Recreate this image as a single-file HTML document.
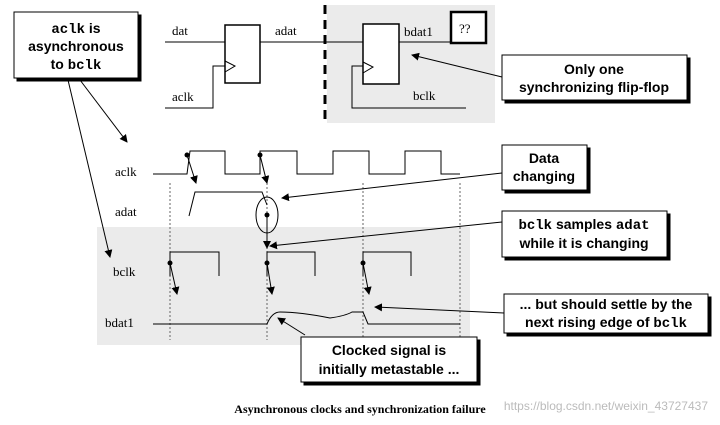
<!DOCTYPE html><html><head><style>body{margin:0;background:#fff}svg{display:block}
.s{font-family:"Liberation Serif",serif;font-size:13px}
.b{font-family:"Liberation Sans",sans-serif;font-weight:bold;font-size:14px}
.m{font-family:"Liberation Mono",monospace;font-weight:bold}
</style></head><body>
<svg width="720" height="425" viewBox="0 0 720 425">
<defs><marker id="a" markerWidth="8" markerHeight="8" refX="7" refY="4" orient="auto" markerUnits="userSpaceOnUse"><path d="M0,0L8,4L0,8z" fill="#000"/></marker></defs>
<g stroke="#000" fill="none" stroke-width="1">
<rect x="327" y="5" width="168" height="118" fill="#ebebeb" stroke="none"/>
<rect x="97" y="227" width="373" height="118" fill="#ebebeb" stroke="none"/>
<line x1="325" y1="5" x2="325" y2="125" stroke-width="3" stroke-dasharray="9,6"/>
<rect x="17" y="15" width="124" height="66" fill="#000"/>
<rect x="14" y="12" width="124" height="66" fill="#fff"/>
<line x1="165" y1="42" x2="225" y2="42"/>
<rect x="225" y="25" width="35" height="58" fill="#fff" stroke-width="1.5"/>
<path d="M225,61L235,66L225,72"/>
<path d="M165,108H213V66H225"/>
<line x1="260" y1="42" x2="363" y2="42"/>
<rect x="363" y="24" width="36" height="60" fill="#fff" stroke-width="1.5"/>
<path d="M363,62L373,67L363,73"/>
<path d="M363,66H352V108H466"/>
<line x1="399" y1="42" x2="451" y2="42"/>
<rect x="451" y="12" width="35" height="31" fill="#fff" stroke-width="2.5"/>
<rect x="505" y="58" width="185" height="45" fill="#000"/><rect x="502" y="55" width="185" height="45" fill="#fff"/>
<line x1="502" y1="77" x2="412" y2="55" marker-end="url(#a)"/>
<line x1="80" y1="80" x2="127" y2="142" marker-end="url(#a)"/>
<line x1="68" y1="80" x2="110" y2="257" marker-end="url(#a)"/>
<path d="M153,174H187L190,151H225V174H260V151H297V174H333V151H369V174H405V151H441V174H460"/>
<g stroke-dasharray="2,2" stroke="#666"><line x1="170" y1="183" x2="170" y2="340"/><line x1="267" y1="183" x2="267" y2="340"/><line x1="363" y1="183" x2="363" y2="340"/><line x1="460" y1="183" x2="460" y2="340"/></g>
<line x1="187" y1="155" x2="196" y2="183" marker-end="url(#a)"/>
<line x1="260" y1="155" x2="267" y2="183" marker-end="url(#a)"/>
<path d="M189,216L195,192H262L267,205"/>
<ellipse cx="267" cy="215" rx="11" ry="18"/>
<line x1="267" y1="215" x2="267" y2="248" marker-end="url(#a)"/>
<path d="M170,276V252H219V276M267,276V252H315V276M363,276V252H411V276"/>
<line x1="170" y1="263" x2="177" y2="294" marker-end="url(#a)"/>
<line x1="267" y1="263" x2="272" y2="294" marker-end="url(#a)"/>
<line x1="363" y1="263" x2="369" y2="294" marker-end="url(#a)"/>
<path d="M153,324H267Q272,312 280,312Q300,312 330,318Q345,316 352,312H363L368,324H460"/>
<rect x="304" y="340" width="176" height="45" fill="#000"/><rect x="301" y="337" width="176" height="45" fill="#fff"/>
<line x1="305" y1="335" x2="278" y2="318" marker-end="url(#a)"/>
<rect x="505" y="148" width="85" height="45" fill="#000"/><rect x="502" y="145" width="85" height="45" fill="#fff"/>
<line x1="502" y1="173" x2="282" y2="198" marker-end="url(#a)"/>
<rect x="505" y="214" width="165" height="46" fill="#000"/><rect x="502" y="211" width="165" height="46" fill="#fff"/>
<line x1="502" y1="222" x2="270" y2="246" marker-end="url(#a)"/>
<rect x="507" y="297" width="204" height="39" fill="#000"/><rect x="504" y="294" width="204" height="39" fill="#fff"/>
<line x1="504" y1="313" x2="375" y2="307" marker-end="url(#a)"/>
</g>
<g fill="#000"><circle cx="187" cy="155" r="2.5"/><circle cx="260" cy="155" r="2.5"/><circle cx="267" cy="215" r="2.5"/><circle cx="170" cy="263" r="2.5"/><circle cx="267" cy="263" r="2.5"/><circle cx="363" cy="263" r="2.5"/></g>
<g class="s"><text x="172" y="35">dat</text><text x="275" y="35">adat</text><text x="172" y="101">aclk</text><text x="404" y="36">bdat1</text><text x="413" y="100">bclk</text><text x="459" y="33">??</text>
<text x="115" y="176">aclk</text><text x="115" y="216">adat</text><text x="113" y="276">bclk</text><text x="105" y="327">bdat1</text></g>
<g class="b" text-anchor="middle">
<text x="76" y="33"><tspan class="m">aclk</tspan> is</text><text x="76" y="51">asynchronous</text><text x="76" y="69">to <tspan class="m">bclk</tspan></text>
<text x="594" y="74">Only one</text><text x="594" y="92">synchronizing flip-flop</text>
<text x="544" y="163">Data</text><text x="544" y="181">changing</text>
<text x="584" y="229"><tspan class="m">bclk</tspan> samples <tspan class="m">adat</tspan></text><text x="584" y="248">while it is changing</text>
<text x="606" y="309">... but should settle by the</text><text x="606" y="327">next rising edge of <tspan class="m">bclk</tspan></text>
<text x="389" y="355">Clocked signal is</text><text x="389" y="374">initially metastable ...</text>
</g>
<text x="360" y="413" text-anchor="middle" font-family="Liberation Serif,serif" font-weight="bold" font-size="12">Asynchronous clocks and synchronization failure</text>
<text x="708" y="410" text-anchor="end" font-family="Liberation Sans,sans-serif" font-size="12" fill="#bbb">https://blog.csdn.net/weixin_43727437</text>
</svg></body></html>
